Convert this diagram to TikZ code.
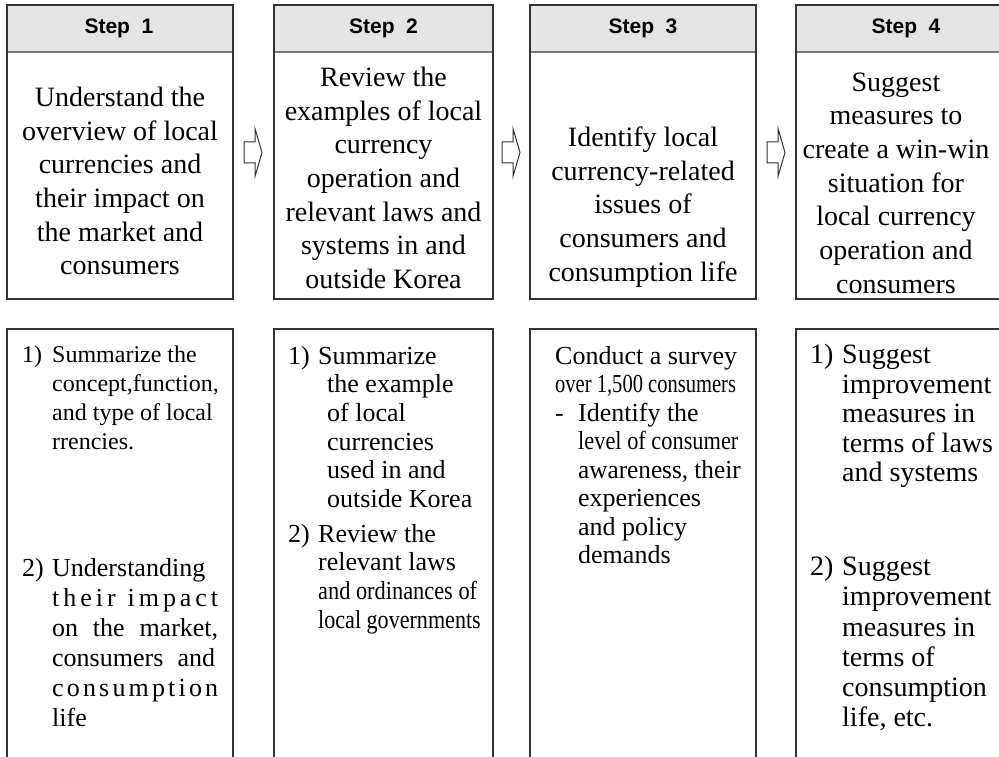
\documentclass[tikz,border=0pt]{standalone}
\usepackage{fontspec}
\setmainfont{Liberation Serif}
\setsansfont{Liberation Sans}
\usepackage{graphicx}
\usepackage{xcolor}
\usetikzlibrary{positioning}
\definecolor{hdrgray}{HTML}{E4E4E4}
\definecolor{rulegray}{HTML}{777777}
\definecolor{edge}{HTML}{333333}
\newcommand{\itemno}[2][30pt]{\makebox[#1][l]{#2}}
\newcommand{\indentby}[1][30pt]{\hspace*{#1}}
\newcommand{\squeeze}[2]{\scalebox{#1}[1]{#2}}
\newcommand{\spreadline}[2]{\makebox[#1][s]{#2}}

\begin{document}
\begin{tikzpicture}[x=1pt,y=-1pt,
  frame/.style={draw=edge,line width=1.3pt},
  steplabel/.style={font=\sffamily\bfseries\fontsize{21}{25}\selectfont,inner sep=0pt},
  uptext/.style={align=center,inner sep=0pt,font=\fontsize{28}{33.7}\selectfont},
  lowtext/.style={align=left,inner sep=0pt,anchor=north west,font=\fontsize{26}{28.6}\selectfont},
  blockarr/.pic={\draw[edge,line width=1pt,fill=white] (0,-10.5) -- (11,-10.5) -- (11,-24) -- (18,0) -- (11,24) -- (11,10.5) -- (0,10.5) -- cycle;}]
\useasboundingbox (0,0) rectangle (999,757);

% columns: header bar, upper box, lower box (open at the bottom)
\foreach \xl/\xr in {7/233,274/493,530/756}{
  \fill[hdrgray] (\xl,5) rectangle (\xr,52);
  \draw[rulegray,line width=2pt] (\xl,52) -- (\xr,52);
  \draw[frame] (\xl,5) rectangle (\xr,299);
  \draw[frame] (\xl,757) -- (\xl,329) -- (\xr,329) -- (\xr,757);
}
% last column runs off the right edge
\fill[hdrgray] (796,5) rectangle (999,52);
\draw[rulegray,line width=2pt] (796,52) -- (999,52);
\draw[frame] (999,5) -- (796,5) -- (796,299) -- (999,299);
\draw[frame] (796,757) -- (796,329) -- (999,329);

\node[steplabel] (s1) at (119,28) {Step\ \ 1};
\node[steplabel] (s2) at (383.5,28) {Step\ \ 2};
\node[steplabel] (s3) at (643,28) {Step\ \ 3};
\node[steplabel] (s4) at (906,28) {Step\ \ 4};

\node[uptext] (u1) at (120,181) {Understand the\\overview of local\\currencies and\\their impact on\\the market and\\consumers};
\node[uptext] (u2) at (383.5,178) {Review the\\examples of local\\currency\\operation and\\relevant laws and\\systems in and\\outside Korea};
\node[uptext] (u3) at (643,207) {Identify local\\currency-related\\issues of\\consumers and\\consumption life};
\node[uptext] (u4) at (896,183) {Suggest\\measures to\\create a win-win\\situation for\\local currency\\operation and\\consumers};

\pic at (244,152.5) {blockarr};
\pic at (502,152.5) {blockarr};
\pic at (767,152.5) {blockarr};

% step 1 details
\node[lowtext,font=\fontsize{24}{29}\selectfont] (d1a) at (22,346) {\itemno{1)}Summarize the\\\indentby concept,function,\\\indentby and type of local\\\indentby rrencies.};
\node[lowtext,font=\fontsize{26}{30}\selectfont] (d1b) at (22,558) {\itemno{2)}Understanding\\
  \indentby\spreadline{166pt}{t\hfil h\hfil e\hfil i\hfil r\hfil\hfil\hfil i\hfil m\hfil p\hfil a\hfil c\hfil t}\\
  \indentby\spreadline{166pt}{on the market,}\\
  \indentby\spreadline{163pt}{consumers and}\\
  \indentby\spreadline{166pt}{c\hfil o\hfil n\hfil s\hfil u\hfil m\hfil p\hfil t\hfil i\hfil o\hfil n}\\
  \indentby life};
% step 2 details
\node[lowtext] (d2a) at (288,346) {\itemno{1)}Summarize\\\indentby[39pt]the example\\\indentby[39pt]of local\\\indentby[39pt]currencies\\\indentby[39pt]used in and\\\indentby[39pt]outside Korea};
\node[lowtext] (d2b) at (288,524) {\itemno{2)}Review the\\\indentby relevant laws\\\indentby\squeeze{0.86}{and ordinances of}\\\indentby\squeeze{0.85}{local governments}};
% step 3 details
\node[lowtext,font=\fontsize{26}{28.5}\selectfont] (d3) at (555,346) {Conduct a survey\\\squeeze{0.79}{over 1,500 consumers}\\\itemno[23pt]{-}Identify the\\\indentby[23pt]\squeeze{0.86}{level of consumer}\\\indentby[23pt]\squeeze{0.97}{awareness, their}\\\indentby[23pt]experiences\\\indentby[23pt]and policy\\\indentby[23pt]demands};
% step 4 details
\node[lowtext,font=\fontsize{28}{29.5}\selectfont] (d4a) at (810,344) {\itemno[32pt]{1)}Suggest\\\indentby[32pt]improvement\\\indentby[32pt]measures in\\\indentby[32pt]terms of laws\\\indentby[32pt]and systems};
\node[lowtext,font=\fontsize{28}{30.2}\selectfont] (d4b) at (810,556) {\itemno[32pt]{2)}Suggest\\\indentby[32pt]improvement\\\indentby[32pt]measures in\\\indentby[32pt]terms of\\\indentby[32pt]consumption\\\indentby[32pt]life, etc.};
\end{tikzpicture}
\end{document}
